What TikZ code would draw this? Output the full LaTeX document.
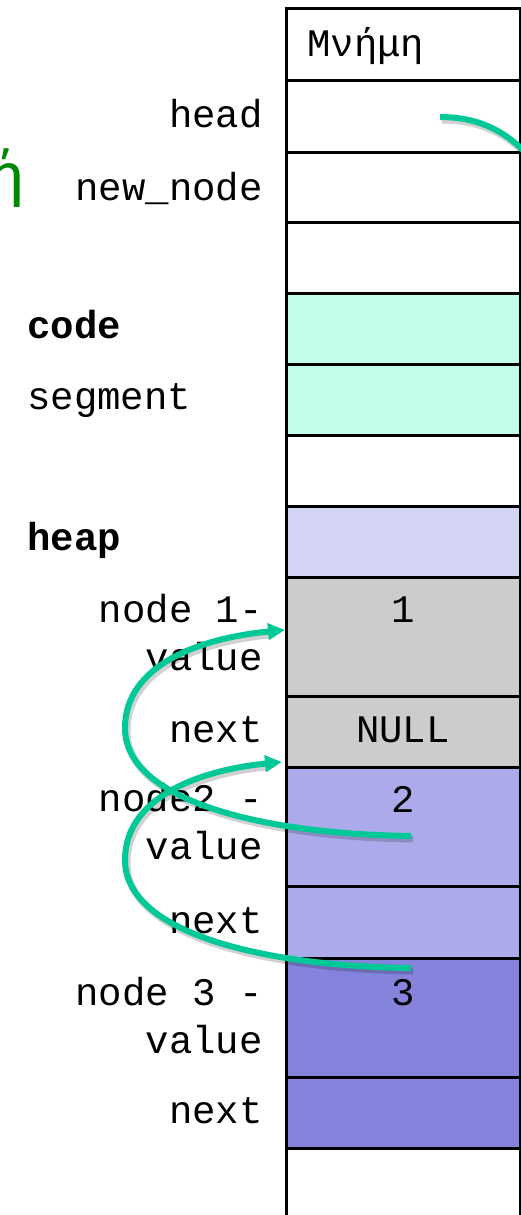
\documentclass[tikz,border=0pt]{standalone}
\usepackage{fontspec}
\setmainfont{Liberation Mono}
\newfontfamily\greensans{Carlito}
\usetikzlibrary{arrows.meta}
\definecolor{codecol}{HTML}{C3FDEC}
\definecolor{heapcol}{HTML}{D3D3F3}
\definecolor{grcell}{HTML}{CCCCCC}
\definecolor{ntwocol}{HTML}{ABABEB}
\definecolor{nthreecol}{HTML}{8484DD}
\definecolor{linkcol}{HTML}{00C896}
\definecolor{ggreen}{HTML}{008A00}
\begin{document}
\begin{tikzpicture}[x=1pt,y=-1pt,
  cell/.style={draw=black, line width=3pt, minimum width=234pt, inner sep=0pt, rectangle},
  txt/.style={font=\fontsize{39}{48}\selectfont, inner sep=0pt},
  lbl/.style={txt, anchor=base east, align=right},
  lblL/.style={txt, anchor=base west},
  intxt/.style={txt, anchor=base},
  link/.style={draw=linkcol, line width=6pt},
  linkshadow/.style={draw=black, opacity=0.18, line width=7pt, transform canvas={shift={(2pt,-3pt)}}},
  tip/.style={-{Triangle[length=17pt,width=16pt]}}
]
\useasboundingbox (0,0) rectangle (521,1215);
\fill[white] (0,0) rectangle (521,1215);

% memory column
\node[cell, minimum height=71pt] (mem) at (403,44.5) {};
\node[cell, minimum height=72pt] (chead) at (403,116) {};
\node[cell, minimum height=70pt] (cnew) at (403,187) {};
\node[cell, minimum height=71pt] (cempA) at (403,257.5) {};
\node[cell, fill=codecol, minimum height=71pt] (codeA) at (403,328.5) {};
\node[cell, fill=codecol, minimum height=71pt] (codeB) at (403,399.5) {};
\node[cell, minimum height=71pt] (cempB) at (403,470.5) {};
\node[cell, fill=heapcol, minimum height=71pt] (heapc) at (403,541.5) {};
\node[cell, fill=grcell, minimum height=119pt] (nonev) at (403,636.5) {};
\node[cell, fill=grcell, minimum height=71pt] (nonen) at (403,731.5) {};
\node[cell, fill=ntwocol, minimum height=119pt] (ntwov) at (403,826.5) {};
\node[cell, fill=ntwocol, minimum height=72pt] (ntwon) at (403,922) {};
\node[cell, fill=nthreecol, minimum height=119pt] (nthreev) at (403,1017.5) {};
\node[cell, fill=nthreecol, minimum height=71pt] (nthreen) at (403,1112.5) {};
\node[cell, minimum height=80pt] (cempC) at (403,1188) {};

% texts in cells
\node[txt, anchor=base west] (memt) at (307,57) {Μνήμη};
\node[intxt] (onet) at (403,622) {1};
\node[intxt] (nullt) at (403,742) {NULL};
\node[intxt] (twot) at (403,812) {2};
\node[intxt] (threet) at (403,1005) {3};

% labels
\node[lbl] (lhead) at (263,127) {head};
\node[lbl] (lnew) at (263,200) {new\_node};
\node[lblL, font=\fontsize{39}{48}\selectfont\bfseries] (lcode) at (27,338) {code};
\node[lblL] (lseg) at (27,409) {segment};
\node[lblL, font=\fontsize{39}{48}\selectfont\bfseries] (lheap) at (27,550) {heap};
\node[lbl] (lnone) at (263,670) {node 1-\\value};
\node[lbl] (lnonen) at (263,742) {next};
\node[lbl] (lntwo) at (263,859) {node2 -\\value};
\node[lbl] (lntwon) at (263,933) {next};
\node[lbl] (lnthree) at (263,1053) {node 3 -\\value};
\node[lbl] (lnthreen) at (263,1123) {next};

% cropped green text
\node[font=\greensans\fontsize{68}{68}\selectfont, text=ggreen, anchor=base east, inner sep=0pt] (gr) at (24,196) {ή};

% link coordinates
\coordinate (sz) at (440,117);
\coordinate (ez) at (540,170);
\coordinate (so) at (411,836);
\coordinate (eo) at (285,630);
\coordinate (st) at (411,968);
\coordinate (et) at (282,762);

% shadows
\draw[linkshadow] (sz) .. controls (480,117) and (512,132) .. (ez);
\draw[linkshadow] (so) .. controls (260,834) and (125,800) .. (125,728) .. controls (125,665) and (200,638) .. (268,632);
\draw[linkshadow] (st) .. controls (260,966) and (125,932) .. (125,860) .. controls (125,797) and (200,770) .. (265,764);

% links
\draw[link] (sz) .. controls (480,117) and (512,132) .. (ez);
\draw[link, tip] (so) .. controls (260,834) and (125,800) .. (125,728) .. controls (125,665) and (200,638) .. (eo);
\draw[link, tip] (st) .. controls (260,966) and (125,932) .. (125,860) .. controls (125,797) and (200,770) .. (et);
\end{tikzpicture}
\end{document}
